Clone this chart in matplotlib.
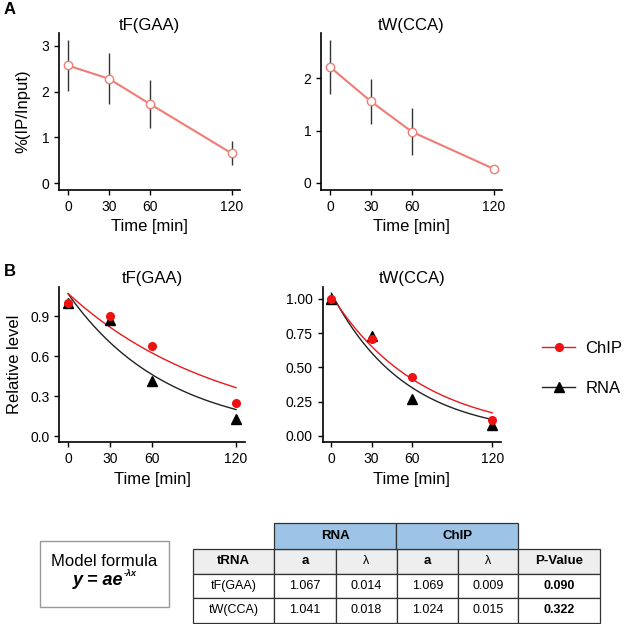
import numpy as np
import matplotlib
matplotlib.use("Agg")
import matplotlib.pyplot as plt
from matplotlib.lines import Line2D
from matplotlib.patches import Rectangle

plt.rcParams["font.family"] = ["Liberation Sans", "DejaVu Sans"]

# ---- data ----
times = [0, 30, 60, 120]

# panel A: %(IP/Input), mean and error
tf_ip = [2.57, 2.28, 1.73, 0.65]
tf_ip_err = [0.56, 0.56, 0.52, 0.26]
tw_ip = [2.22, 1.56, 0.98, 0.27]
tw_ip_err = [0.52, 0.43, 0.45, 0.02]

# panel B: relative level
tf_chip = [1.00, 0.90, 0.675, 0.25]
tf_rna = [1.00, 0.87, 0.41, 0.13]
tw_chip = [1.00, 0.705, 0.428, 0.12]
tw_rna = [1.00, 0.73, 0.27, 0.08]

# fitted model parameters (table)
trna_names = ["tF(GAA)", "tW(CCA)"]
rna_a = [1.067, 1.041]
rna_lam = [0.014, 0.018]
chip_a = [1.069, 1.024]
chip_lam = [0.009, 0.015]
p_values = [0.090, 0.322]

SALMON = "#F07C76"
W, H = 625, 624


def px_axes(fig, x0, y0, x1, y1):
    """Add axes from pixel box (top-left origin)."""
    return fig.add_axes([x0 / W, 1 - y1 / H, (x1 - x0) / W, (y1 - y0) / H])


def style(ax):
    for s in ("top", "right"):
        ax.spines[s].set_visible(False)
    for s in ("left", "bottom"):
        ax.spines[s].set_linewidth(1.2)
    ax.tick_params(length=3.5, width=1, pad=3.5, labelsize=10)
    ax.set_xticks(times)
    ax.set_xlabel("Time [min]", fontsize=12, labelpad=4)


fig = plt.figure(figsize=(W / 100, H / 100), dpi=100)

# ---- panel A ----
for (x0, x1), title, mean, err, ylim, yt in [
    ((59, 240), "tF(GAA)", tf_ip, tf_ip_err, (-0.15, 3.28), [0, 1, 2, 3]),
    ((321, 502), "tW(CCA)", tw_ip, tw_ip_err, (-0.134, 2.87), [0, 1, 2]),
]:
    ax = px_axes(fig, x0, 33, x1, 190)
    ax.errorbar(times, mean, yerr=err, fmt="none", ecolor="#333333", elinewidth=1, capsize=0)
    ax.plot(times, mean, color=SALMON, lw=1.5, marker="o", ms=6,
            mfc="white", mec=SALMON, mew=1.0)
    ax.set_xlim(-6.6, 126)
    ax.set_ylim(*ylim)
    ax.set_yticks(yt)
    ax.set_title(title, fontsize=12, pad=2)
    style(ax)
    if x0 == 59:
        ax.set_ylabel("%(IP/Input)", fontsize=12, labelpad=8)

# ---- panel B ----
tgrid = np.linspace(0, 120, 200)
for (x0, x1), i, chip, rna, ylim, yt, fmt in [
    ((59, 245), 0, tf_chip, tf_rna, (-0.047, 1.12), [0.0, 0.3, 0.6, 0.9], "{:.1f}"),
    ((322.7, 500.7), 1, tw_chip, tw_rna, (-0.046, 1.088), [0.0, 0.25, 0.5, 0.75, 1.0], "{:.2f}"),
]:
    ax = px_axes(fig, x0, 286.7, x1, 442.3)
    ax.plot(tgrid, rna_a[i] * np.exp(-rna_lam[i] * tgrid), color="#222222", lw=1)
    ax.plot(tgrid, chip_a[i] * np.exp(-chip_lam[i] * tgrid), color="#E8191B", lw=1)
    ax.plot(times, rna, ls="none", marker="^", ms=6.5, color="black")
    ax.plot(times, chip, ls="none", marker="o", ms=5.5, color="#EE1111")
    ax.set_xlim(-6.5, 126.4)
    ax.set_ylim(*ylim)
    ax.set_yticks(yt)
    ax.set_yticklabels([fmt.format(v) for v in yt])
    ax.set_title(trna_names[i], fontsize=12, pad=3)
    style(ax)
    if i == 0:
        ax.set_ylabel("Relative level", fontsize=12, labelpad=6)

handles = [
    Line2D([], [], color="#E8191B", lw=1, marker="o", ms=5.5, mfc="#EE1111", mec="#EE1111"),
    Line2D([], [], color="#222222", lw=1, marker="^", ms=6.5, mfc="black", mec="black"),
]
fig.legend(handles, ["ChIP", "RNA"], loc="center left",
           bbox_to_anchor=(542 / W, 1 - 368.5 / H), frameon=False, fontsize=12,
           handlelength=2.0, handletextpad=0.6, labelspacing=1.5,
           borderpad=0, borderaxespad=0)

fig.text(4 / W, 1 - 9 / H, "A", fontsize=12, fontweight="bold", va="center")
fig.text(4 / W, 1 - 272 / H, "B", fontsize=12, fontweight="bold", va="center")

# ---- model formula box + table ----
tab = fig.add_axes([0, 0, 1, 1])
tab.set_xlim(0, W)
tab.set_ylim(H, 0)
tab.axis("off")

tab.add_patch(Rectangle((40, 541), 129, 66, fill=False, ec="#999999", lw=1))
tab.text(104.5, 561, "Model formula", fontsize=12, ha="center", va="center")
tab.text(123, 580.5, "y = ae", fontsize=13, ha="right", va="center",
         fontweight="bold", style="italic")
tab.text(124, 573, "-λx", fontsize=6.5, ha="left", va="center",
         fontweight="bold", style="italic")

col_edges = [193.3, 274, 336, 396.7, 458.3, 518.3, 600]
col_w = np.diff(col_edges)
rows_txt = [["tRNA", "a", "λ", "a", "λ", "P-Value"]]
for i in range(2):
    rows_txt.append([trna_names[i], f"{rna_a[i]:.3f}", f"{rna_lam[i]:.3f}",
                     f"{chip_a[i]:.3f}", f"{chip_lam[i]:.3f}", f"{p_values[i]:.3f}"])

y_top, y_bot = 549, 622.7
t = tab.table(cellText=rows_txt, colWidths=list(col_w / col_w.sum()),
              cellLoc="center",
              bbox=[col_edges[0] / W, 1 - y_bot / H,
                    (col_edges[-1] - col_edges[0]) / W, (y_bot - y_top) / H])
t.auto_set_font_size(False)
for (r, c), cell in t.get_celld().items():
    cell.set_edgecolor("#333333")
    cell.set_linewidth(0.9)
    cell.get_text().set_fontsize(9)
    if r == 0:
        cell.set_facecolor("#EEEEEE")
        if c != 2 and c != 4:
            cell.get_text().set_fontweight("bold")
            cell.get_text().set_fontsize(9.5)
    if r > 0 and c == 5:
        cell.get_text().set_fontweight("bold")

h_top, h_bot = 523.3, 549
ht = tab.table(cellText=[["RNA", "ChIP"]], cellLoc="center",
               bbox=[col_edges[1] / W, 1 - h_bot / H,
                     (col_edges[5] - col_edges[1]) / W, (h_bot - h_top) / H])
ht.auto_set_font_size(False)
for (r, c), cell in ht.get_celld().items():
    cell.set_facecolor("#9DC3E6")
    cell.set_edgecolor("#333333")
    cell.set_linewidth(0.9)
    cell.get_text().set_fontsize(9.5)
    cell.get_text().set_fontweight("bold")

fig.savefig("out.png", dpi=100)
